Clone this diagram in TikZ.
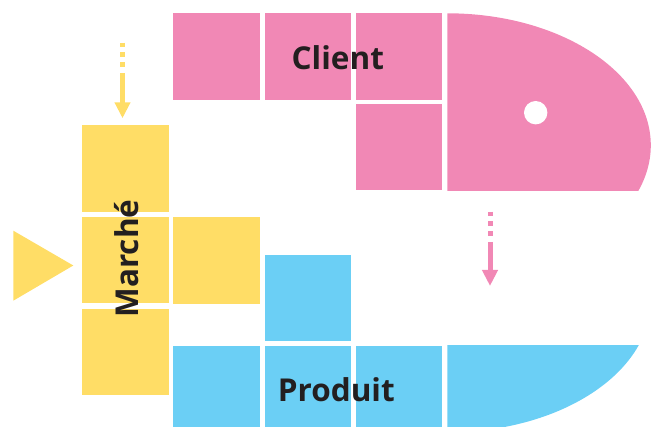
\documentclass[tikz,border=0pt]{standalone}
\usepackage{fontspec}
\setsansfont{Open Sans}
\usepackage{xcolor}
\usetikzlibrary{positioning, arrows.meta}
\definecolor{rose}{RGB}{241,136,181}
\definecolor{jaune}{RGB}{255,221,102}
\definecolor{ciel}{RGB}{107,207,245}
\definecolor{encre}{RGB}{35,31,32}
\tikzset{style={font=\sffamily\bfseries}}

\begin{document}
\begin{tikzpicture}[x=1pt,y=-1pt,>={Triangle[width=15pt,length=16pt]},
                cell/.style={rectangle,inner sep=0pt,minimum size=86.5pt},
                word/.style={text=encre,inner sep=0pt,font=\sffamily\bfseries\fontsize{31.5}{32}\selectfont},
                pointille/.style={line width=5pt,dash pattern=on 4.7pt off 5pt on 4.7pt off 5pt on 4.7pt off 6pt on 200pt}]
                \useasboundingbox (0,0) rectangle (651,427);
                \clip (0,0) rectangle (651,427);
                % client
                \node[cell,fill=rose] (c1) at (216.7,56.7) {};
                \node[cell,fill=rose] (c2) at (307.9,56.7) {};
                \node[cell,fill=rose] (c3) at (399.1,56.7) {};
                \node[cell,fill=rose] (c4) at (399.1,147.2) {};
                \begin{scope}
                \clip (447.3,13.3) rectangle (660,190.7);
                \fill[rose] (447.3,145.3) ellipse [x radius=203.5pt, y radius=132pt];
                \end{scope}
                \fill[white] (535.7,112.7) circle [radius=11.7pt];
                % marche
                \fill[jaune] (13.3,230.7) -- (73.3,265.5) -- (13.3,300.7) -- cycle;
                \node[cell,fill=jaune] (m1) at (125.6,168.3) {};
                \node[cell,fill=jaune] (m2) at (125.6,259.8) {};
                \node[cell,fill=jaune] (m3) at (125.6,352) {};
                \node[cell,fill=jaune] (m4) at (216.7,260.5) {};
                % produit
                \node[cell,fill=ciel] (p1) at (307.9,297.8) {};
                \node[cell,fill=ciel] (p2) at (216.7,389) {};
                \node[cell,fill=ciel] (p3) at (307.9,389) {};
                \node[cell,fill=ciel] (p4) at (399.1,389) {};
                \begin{scope}
                \clip (447.3,345.7) rectangle (660,440);
                \fill[ciel] (447.3,300.3) ellipse [x radius=203.5pt, y radius=132pt];
                \end{scope}
                % arrows
                \coordinate (ytail) at (122.5,42.7);
                \coordinate (yhead) at (122.5,118.3);
                \coordinate (rtail) at (490,211.7);
                \coordinate (rhead) at (490,286);
                \draw[->,jaune,pointille] (ytail) -- (yhead);
                \draw[->,rose,pointille] (rtail) -- (rhead);
                % labels
                \node[word,anchor=base] (client) at (337.8,70) {Client};
                \node[word,anchor=base] (produit) at (336.3,401.7) {Produit};
                \node[word,anchor=base,rotate=90] (marche) at (138.3,258.5) {Marché};
            \end{tikzpicture}
\end{document}
